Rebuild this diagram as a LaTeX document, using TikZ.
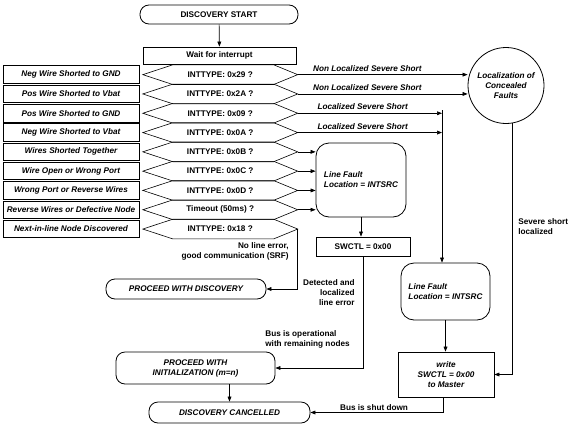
\documentclass[tikz,border=0pt]{standalone}
\usepackage{fontspec}
\setmainfont{Liberation Sans}
\usetikzlibrary{arrows.meta}

\begin{document}
\begin{tikzpicture}[x=1pt,y=-1pt,
  >={Triangle[length=5pt,width=3.8pt]},
  every node/.style={font=\bfseries\fontsize{8.2}{10}\selectfont, inner sep=1pt},
  it/.style={font=\bfseries\itshape\fontsize{8.2}{10}\selectfont},
  terminal/.style={draw, line width=0.8pt, rounded corners=9pt, align=center, inner sep=0pt},
  plainbox/.style={draw, line width=0.8pt, align=center, inner sep=0pt},
  faultbox/.style={draw, line width=1pt, it, minimum width=136pt, minimum height=17.5pt, inner sep=0pt},
  linefault/.style={draw, line width=0.8pt, rounded corners=13pt, it, align=left, inner sep=0pt},
  hexcell/.style={minimum width=154.5pt, minimum height=19.3pt, inner sep=0pt},
  hexline/.style={line width=0.6pt},
  lbl/.style={inner sep=1pt}]
\path[fill=white, use as bounding box] (0,0) rectangle (577,423);

\node[terminal, minimum width=158pt, minimum height=19pt] (start) at (219,14.5) {DISCOVERY START};
\node[plainbox, minimum width=153pt, minimum height=17pt] (wait) at (219.5,55.5) {Wait for interrupt};
\draw[->, line width=0.7pt] (start) -- (wait);

% decisions and the faults they stand for
\foreach \i/\itype/\ftxt in {
  1/{INTTYPE: 0x29 ?}/{Neg Wire Shorted to GND},
  2/{INTTYPE: 0x2A ?}/{Pos Wire Shorted to Vbat},
  3/{INTTYPE: 0x09 ?}/{Pos Wire Shorted to GND},
  4/{INTTYPE: 0x0A ?}/{Neg Wire Shorted to Vbat},
  5/{INTTYPE: 0x0B ?}/{Wires Shorted Together},
  6/{INTTYPE: 0x0C ?}/{Wire Open or Wrong Port},
  7/{INTTYPE: 0x0D ?}/{Wrong Port or Reverse Wires},
  8/{Timeout (50ms) ?}/{Reverse Wires or Defective Node},
  9/{INTTYPE: 0x18 ?}/{Next-in-line Node Discovered}}
{
  \node[hexcell] (h\i) at (220.25,{55.35+19.3*\i}) {\itype};
  \draw[hexline] (h\i.west) -- ([xshift=30pt]h\i.north west) -- ([xshift=-24pt]h\i.north east)
    -- (h\i.east) -- ([xshift=-24pt]h\i.south east) -- ([xshift=30pt]h\i.south west) -- cycle;
  \node[faultbox] (f\i) at (71,{55.35+19.3*\i}) {\ftxt};
}

\node[circle, draw, line width=0.8pt, minimum size=76pt, inner sep=0pt, it, align=center] (conc) at (506,85.5) {Localization of\\Concealed\\Faults};
\node[linefault, minimum width=90pt, minimum height=74pt] (lf1) at (361,180) {Line Fault\\Location = INTSRC};
\node[plainbox, minimum width=94pt, minimum height=19pt] (sw) at (363,246.5) {SWCTL = 0x00};
\node[linefault, minimum width=89pt, minimum height=57pt] (lf2) at (445.5,291.5) {Line Fault\\Location = INTSRC};
\node[plainbox, it, minimum width=96pt, minimum height=45pt] (wr) at (446,374.5) {write\\SWCTL = 0x00\\to Master};

\node[terminal, it, minimum width=160pt, minimum height=20pt] (disc) at (186,289) {PROCEED WITH DISCOVERY};
\node[terminal, it, minimum width=159pt, minimum height=32pt] (init) at (195.5,368) {PROCEED WITH\\INITIALIZATION (m=n)};
\node[terminal, it, minimum width=161pt, minimum height=21pt] (cancel) at (229.5,412.5) {DISCOVERY CANCELLED};

\begin{scope}[line width=0.7pt]
% severe shorts
\draw[->] (h1.east) -- (h1.east -| conc.west) node[lbl, it, above=2pt, pos=0.41] (nl1) {Non Localized Severe Short};
\draw[->] (h2.east) -- (h2.east -| conc.west) node[lbl, it, above=2pt, pos=0.41] (nl2) {Non Localized Severe Short};
\coordinate (jn) at (442,110);
\draw[->] (h3.east) -- (h3.east -| jn) node[lbl, it, above=2pt, pos=0.45] (ls1) {Localized Severe Short};
\draw[->] (h4.east) -- (h4.east -| jn) node[lbl, it, above=2pt, pos=0.45] (ls2) {Localized Severe Short};
\draw[->] (jn) -- (jn |- lf2.north);

% line faults
\foreach \i in {5,...,8}
  \draw[->] (h\i.east) -- (h\i.east -| lf1.west);
\draw[->] (lf1.south) -- (lf1.south |- sw.north);
\draw[->] (lf2.south) -- (lf2.south |- wr.north);

% no error
\draw[->] (h9.east) |- (disc.east);
\node[lbl, align=right, anchor=east] (okl) at (290,251.5) {No line error,\\good communication (SRF)};

\draw[->] (sw.south) |- (init.east);
\node[lbl, align=right, anchor=east] (detl) at (356,292.5) {Detected and\\localized\\line error};
\node[lbl, align=left, anchor=west] (busop) at (264,339) {Bus is operational\\with remaining nodes};

\draw[->] (conc.-80) |- (wr.east);
\node[lbl, align=left, anchor=west] (sevl) at (517,227) {Severe short\\localized};

\draw[->] (init.south -| cancel.north) -- (cancel.north);
\draw[->] ([xshift=-3pt]wr.south) |- (cancel.east) node[lbl, above=1pt, pos=0.76] (shut) {Bus is shut down};
\end{scope}
\end{tikzpicture}
\end{document}
